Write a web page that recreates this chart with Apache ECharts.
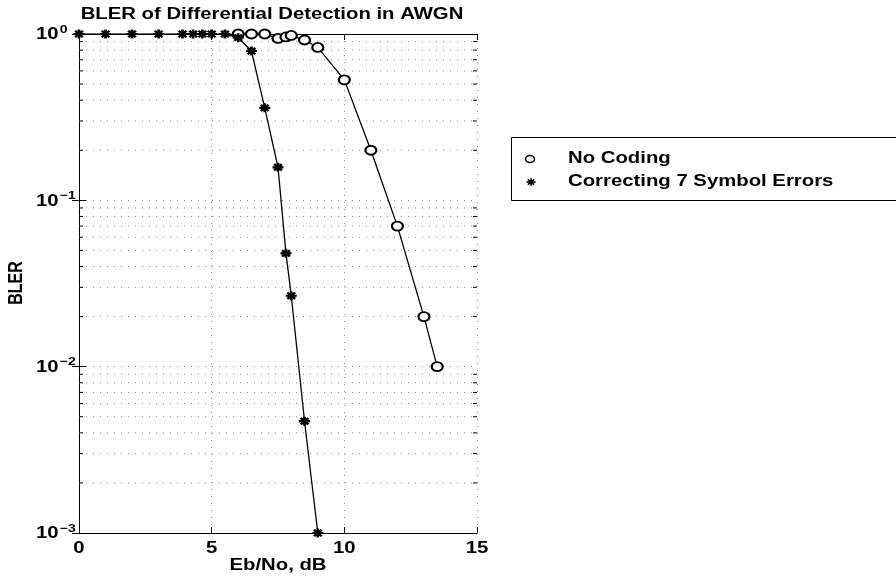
<!DOCTYPE html>
<html><head><meta charset="utf-8">
<script src="https://cdn.jsdelivr.net/npm/echarts@6/dist/echarts.min.js"></script>
<style>html,body{margin:0;padding:0;background:#fff}#c{width:896px;height:583px}</style>
</head><body><div id="c"></div>
<script>
// Data
const noCodingX = [6, 6.5, 7, 7.5, 7.8, 8, 8.5, 9, 10, 11, 12, 13, 13.5];
const noCodingY = [1, 1, 1, 0.94, 0.96, 0.98, 0.92, 0.83, 0.53, 0.2, 0.07, 0.02, 0.01];
const rsX = [0, 1, 2, 3, 3.9, 4.3, 4.65, 5, 5.5, 6, 6.5, 7, 7.5, 7.8, 8, 8.5, 9];
const rsY = [1, 1, 1, 1, 1, 1, 1, 1, 1, 0.95, 0.79, 0.36, 0.158, 0.048, 0.0267, 0.0047, 0.001];
const seriesNames = ['No Coding', 'Correcting 7 Symbol Errors'];
const titleText = 'BLER of Differential Detection in AWGN';
const xName = 'Eb/No, dB';
const yName = 'BLER';
const xTickLabels = [0, 5, 10, 15];
const yTickLabels = [0.001, 0.01, 0.1, 1];
const yDecades = [0.001, 0.01, 0.1];
const minorMantissas = [2, 3, 4, 5, 6, 7, 8, 9];

const minorY = [];
yDecades.forEach(d => minorMantissas.forEach(m => minorY.push(+(d * m).toPrecision(3))));

const FONT = 'Liberation Sans, Arial, Helvetica, sans-serif';
const SX = 1.27; // horizontal stretch of the reference's lettering
const STAR = 'path://M0,-10L0,10M-10,0L10,0M-7,-7L7,7M-7,7L7,-7';
const dotted = { color: '#888', width: 1, type: [1, 6] };
const txt = (text, extra) => Object.assign({ text: text, fill: '#000', fontFamily: FONT, fontSize: 16, fontWeight: 'bold' }, extra || {});

function expLabel(v) {
  const e = Math.round(Math.log10(v));
  return '{b|10}{s|' + (e < 0 ? '\u2212' + (-e) : e) + '}';
}

const chart = echarts.init(document.getElementById('c'), null, { renderer: 'canvas' });

function starLines(cx, cy, rx, ry) {
  const d = 0.7;
  return [[0, -1, 0, 1], [-1, 0, 1, 0], [-d, -d, d, d], [-d, d, d, -d]].map(s => ({
    type: 'line',
    shape: { x1: cx + s[0] * rx, y1: cy + s[1] * ry, x2: cx + s[2] * rx, y2: cy + s[3] * ry },
    style: { stroke: '#000', lineWidth: 1.6 }
  }));
}

const option = {
  backgroundColor: '#fff',
  animation: false,
  textStyle: { fontFamily: FONT, color: '#000' },
  grid: { left: 79, top: 34, width: 398, height: 499, containLabel: false },
  graphic: [
    { type: 'text', x: 272, y: 15, scaleX: SX, style: txt(titleText, { align: 'center', verticalAlign: 'middle' }) },
    { type: 'text', x: 278, y: 566, scaleX: SX, style: txt(xName, { align: 'center', verticalAlign: 'middle' }) },
    { type: 'text', x: 16, y: 283, rotation: Math.PI / 2, scaleY: SX, style: txt(yName, { align: 'center', verticalAlign: 'middle' }) },
    { type: 'rect', left: 509, top: 135, shape: { width: 400, height: 63 },
      style: { fill: 'none', stroke: '#000', lineWidth: 1 } },
    { type: 'ellipse', shape: { cx: 530, cy: 159, rx: 4.5, ry: 3.5 }, style: { fill: '#fff', stroke: '#000', lineWidth: 1.5 } },
    { type: 'group', children: starLines(531, 182, 4.5, 3.8) },
    { type: 'text', x: 568, y: 159, scaleX: SX, style: txt(seriesNames[0], { align: 'left', verticalAlign: 'middle' }) },
    { type: 'text', x: 568, y: 182, scaleX: SX, style: txt(seriesNames[1], { align: 'left', verticalAlign: 'middle' }) }
  ],
  xAxis: [{
    type: 'value', position: 'bottom', min: 0, max: 15, interval: 5,
    axisLine: { show: true, lineStyle: { color: '#000', width: 1 } },
    axisTick: { show: true, inside: true, length: 6, lineStyle: { color: '#000' } },
    axisLabel: { show: false },
    splitLine: { show: true, lineStyle: dotted }
  }, {
    type: 'value', position: 'top', min: 0, max: 15, interval: 5,
    axisLine: { show: true, lineStyle: { color: '#000', width: 1 } },
    axisTick: { show: true, inside: true, length: 6, lineStyle: { color: '#000' } },
    axisLabel: { show: false }, splitLine: { show: false }
  }],
  yAxis: [{
    type: 'log', logBase: 10, min: 0.001, max: 1, position: 'left',
    axisLine: { show: true, lineStyle: { color: '#000', width: 1 } },
    axisTick: { show: true, inside: true, length: 7, lineStyle: { color: '#000' } },
    axisLabel: { show: false },
    splitLine: { show: true, lineStyle: dotted }
  }, {
    type: 'log', logBase: 10, min: 0.001, max: 1, position: 'right',
    axisLine: { show: true, lineStyle: { color: '#000', width: 1 } },
    axisTick: { show: true, inside: true, length: 7, lineStyle: { color: '#000' } },
    axisLabel: { show: false }, splitLine: { show: false }
  }],
  series: [{
    type: 'custom', name: 'minorGrid', silent: true, clip: false, z: 1,
    data: minorY.map(v => [0, v]),
    renderItem: function (params, api) {
      const v = api.value(1);
      const p0 = api.coord([0, v]);
      const p1 = api.coord([15, v]);
      return {
        type: 'group', children: [
          { type: 'line', shape: { x1: p0[0], y1: p0[1], x2: p1[0], y2: p1[1] },
            style: { stroke: '#888', lineWidth: 1, lineDash: [1, 6] } },
          { type: 'line', shape: { x1: p0[0], y1: p0[1], x2: p0[0] + 4, y2: p0[1] },
            style: { stroke: '#000', lineWidth: 1 } },
          { type: 'line', shape: { x1: p1[0] - 4, y1: p1[1], x2: p1[0], y2: p1[1] },
            style: { stroke: '#000', lineWidth: 1 } }
        ]
      };
    }
  }, {
    type: 'custom', name: 'xTickLabels', silent: true, clip: false, z: 5,
    data: xTickLabels.map(v => [v, 0.001]),
    renderItem: function (params, api) {
      const v = api.value(0);
      const p = api.coord([v, 0.001]);
      return { type: 'text', x: p[0], y: p[1] + 16, scaleX: SX,
        style: txt(String(v), { align: 'center', verticalAlign: 'middle' }) };
    }
  }, {
    type: 'custom', name: 'yTickLabels', silent: true, clip: false, z: 5,
    data: yTickLabels.map(v => [0, v]),
    renderItem: function (params, api) {
      const v = api.value(1);
      const p = api.coord([0, v]);
      return { type: 'text', x: p[0] - 43, y: p[1] + 1, scaleX: SX,
        style: txt(expLabel(v), { align: 'left', verticalAlign: 'middle',
          rich: {
            b: { fontFamily: FONT, fontSize: 16, fontWeight: 'bold', fill: '#000' },
            s: { fontFamily: FONT, fontSize: 11, fontWeight: 'bold', fill: '#000', padding: [0, 0, 11, 1] }
          } }) };
    }
  }, {
    type: 'line', name: seriesNames[0], z: 3,
    data: noCodingX.map((x, i) => [x, noCodingY[i]]),
    symbol: 'emptyCircle', symbolSize: [11, 9], showAllSymbol: true,
    lineStyle: { color: '#000', width: 1.3 },
    itemStyle: { color: '#000', borderColor: '#000', borderWidth: 1.4 }
  }, {
    type: 'line', name: seriesNames[1], z: 4,
    data: rsX.map((x, i) => [x, rsY[i]]),
    symbol: STAR, symbolSize: [11, 9], showAllSymbol: true,
    lineStyle: { color: '#000', width: 1.3 },
    itemStyle: { color: '#000', borderColor: '#000', borderWidth: 2.4 }
  }]
};
chart.setOption(option);
</script></body></html>
